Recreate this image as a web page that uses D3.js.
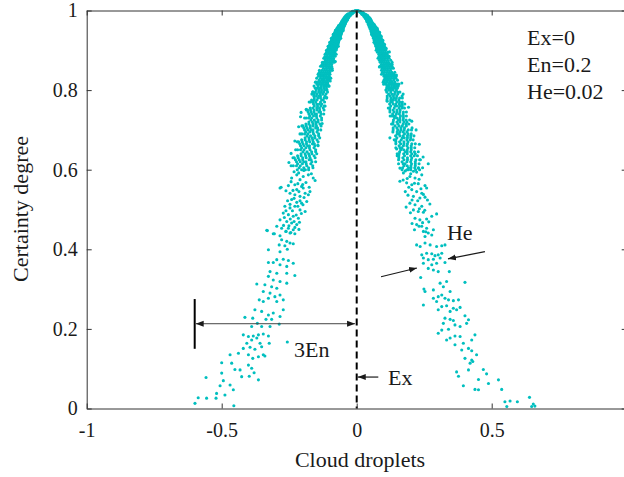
<!DOCTYPE html>
<html>
<head>
<meta charset="utf-8">
<script src="https://cdn.jsdelivr.net/npm/d3@7"></script>
<style>
    body { margin: 0; background: #ffffff; }
    svg { display: block; }
    svg text { font-family: "Liberation Serif", "Times New Roman", serif; }
</style>
</head>
<body>
<svg id="chart" width="624" height="477"></svg>
<script>
// Cloud droplets. Dense upper part is stored as rows: [certainty, [x, ...]].
const leftRows = [
    [1.000, [-0.006, -0.002]],
    [0.998, [-0.006, -0.011, -0.016]],
    [0.995, [-0.011, -0.017, -0.023]],
    [0.992, [-0.016, -0.022, -0.028, -0.032]],
    [0.990, [-0.021, -0.027, -0.032, -0.036]],
    [0.987, [-0.024, -0.030, -0.035, -0.040]],
    [0.985, [-0.028, -0.033, -0.038, -0.043]],
    [0.982, [-0.030, -0.036, -0.041, -0.046]],
    [0.980, [-0.033, -0.038, -0.043, -0.048]],
    [0.977, [-0.034, -0.040, -0.046, -0.051]],
    [0.975, [-0.036, -0.042, -0.047, -0.053]],
    [0.972, [-0.039, -0.045, -0.050, -0.056]],
    [0.970, [-0.041, -0.047, -0.052, -0.057]],
    [0.967, [-0.042, -0.048, -0.054, -0.060]],
    [0.965, [-0.044, -0.050, -0.056, -0.062]],
    [0.962, [-0.045, -0.051, -0.057, -0.063, -0.067]],
    [0.960, [-0.047, -0.053, -0.059, -0.064, -0.068]],
    [0.957, [-0.049, -0.055, -0.061, -0.066, -0.071]],
    [0.955, [-0.050, -0.056, -0.062, -0.068, -0.073]],
    [0.952, [-0.051, -0.058, -0.064, -0.070, -0.075]],
    [0.950, [-0.053, -0.059, -0.066, -0.071, -0.077]],
    [0.947, [-0.054, -0.061, -0.067, -0.073, -0.079]],
    [0.945, [-0.056, -0.062, -0.068, -0.075, -0.081]],
    [0.942, [-0.057, -0.064, -0.070, -0.076, -0.083]],
    [0.940, [-0.058, -0.065, -0.071, -0.078, -0.084]],
    [0.937, [-0.060, -0.066, -0.073, -0.079, -0.086]],
    [0.935, [-0.061, -0.068, -0.074, -0.081, -0.087]],
    [0.932, [-0.062, -0.069, -0.076, -0.082, -0.089]],
    [0.930, [-0.063, -0.070, -0.077, -0.083, -0.090]],
    [0.927, [-0.065, -0.072, -0.078, -0.085, -0.092]],
    [0.925, [-0.066, -0.073, -0.080, -0.086, -0.093]],
    [0.922, [-0.067, -0.074, -0.081, -0.088, -0.095]],
    [0.920, [-0.068, -0.075, -0.082, -0.089, -0.096]],
    [0.917, [-0.069, -0.076, -0.084, -0.091, -0.098]],
    [0.915, [-0.070, -0.077, -0.085, -0.092, -0.099]],
    [0.912, [-0.071, -0.079, -0.086, -0.093, -0.101]],
    [0.910, [-0.072, -0.080, -0.087, -0.094, -0.102]],
    [0.907, [-0.074, -0.081, -0.089, -0.096, -0.104]],
    [0.905, [-0.075, -0.082, -0.090, -0.097, -0.105]],
    [0.902, [-0.076, -0.083, -0.091, -0.099, -0.107]],
    [0.900, [-0.077, -0.084, -0.092, -0.100, -0.108]],
    [0.895, [-0.081, -0.087, -0.093, -0.100, -0.106, -0.112]],
    [0.890, [-0.081, -0.087, -0.093, -0.099, -0.104, -0.111]],
    [0.885, [-0.080, -0.087, -0.093, -0.100, -0.109]],
    [0.880, [-0.086, -0.094, -0.101, -0.106, -0.112, -0.118]],
    [0.875, [-0.085, -0.092, -0.100, -0.108, -0.116]],
    [0.870, [-0.089, -0.095, -0.101, -0.108, -0.114, -0.121]],
    [0.865, [-0.093, -0.099, -0.107, -0.114, -0.122, -0.128]],
    [0.860, [-0.093, -0.102, -0.110, -0.115, -0.122, -0.128]],
    [0.855, [-0.091, -0.098, -0.105, -0.113, -0.123]],
    [0.850, [-0.093, -0.101, -0.111, -0.119, -0.128]],
    [0.845, [-0.100, -0.107, -0.115, -0.123, -0.131, -0.138]],
    [0.840, [-0.099, -0.106, -0.113, -0.120, -0.128, -0.136]],
    [0.835, [-0.102, -0.112, -0.120, -0.126, -0.133, -0.141]],
    [0.830, [-0.099, -0.107, -0.115, -0.123, -0.134]],
    [0.825, [-0.102, -0.110, -0.120, -0.129, -0.139]],
    [0.820, [-0.108, -0.116, -0.125, -0.134, -0.142, -0.150]],
    [0.815, [-0.107, -0.115, -0.123, -0.130, -0.138, -0.147]],
    [0.810, [-0.105, -0.114, -0.122, -0.131, -0.143]],
    [0.805, [-0.112, -0.122, -0.132, -0.138, -0.146, -0.154]],
    [0.800, [-0.110, -0.119, -0.130, -0.139, -0.150]],
    [0.795, [-0.108, -0.122, -0.131, -0.141, -0.153, -0.163]],
    [0.790, [-0.114, -0.126, -0.136, -0.148, -0.158]],
    [0.785, [-0.118, -0.134, -0.139, -0.149, -0.159]],
    [0.780, [-0.121, -0.134, -0.144, -0.157]],
    [0.775, [-0.124, -0.130, -0.147, -0.157, -0.167]],
    [0.770, [-0.119, -0.134, -0.152, -0.162, -0.171]],
    [0.765, [-0.129, -0.138, -0.148, -0.160]],
    [0.760, [-0.120, -0.132, -0.145, -0.157]],
    [0.755, [-0.124, -0.138, -0.148, -0.162, -0.172]],
    [0.750, [-0.121, -0.137, -0.147, -0.158, -0.171, -0.182]],
    [0.745, [-0.134, -0.140, -0.158, -0.169, -0.180]],
    [0.740, [-0.132, -0.149, -0.155, -0.166, -0.177]],
    [0.735, [-0.135, -0.149, -0.160, -0.174]],
    [0.730, [-0.130, -0.148, -0.167, -0.178, -0.187]],
    [0.725, [-0.130, -0.143, -0.157, -0.170]],
    [0.720, [-0.143, -0.152, -0.164, -0.177]],
    [0.715, [-0.136, -0.151, -0.162, -0.177, -0.188]],
    [0.710, [-0.132, -0.149, -0.161, -0.172, -0.187, -0.199]],
    [0.705, [-0.145, -0.152, -0.172, -0.184, -0.196]],
    [0.700, [-0.144, -0.162, -0.169, -0.181, -0.193]],
    [0.695, [-0.147, -0.162, -0.174, -0.189]],
    [0.690, [-0.141, -0.160, -0.181, -0.193, -0.203]],
    [0.685, [-0.141, -0.155, -0.171, -0.184]],
    [0.680, [-0.155, -0.165, -0.177, -0.191]],
    [0.675, [-0.147, -0.163, -0.176, -0.191, -0.204]],
    [0.670, [-0.143, -0.161, -0.174, -0.186, -0.202, -0.215]],
    [0.665, [-0.157, -0.164, -0.186, -0.199, -0.211]],
    [0.660, [-0.155, -0.175, -0.182, -0.195, -0.208]],
    [0.655, [-0.158, -0.175, -0.188, -0.204]],
    [0.650, [-0.152, -0.173, -0.195, -0.208, -0.219]],
    [0.645, [-0.152, -0.167, -0.184, -0.199]],
    [0.640, [-0.166, -0.178, -0.191, -0.206]],
    [0.635, [-0.158, -0.175, -0.189, -0.206, -0.219]],
    [0.630, [-0.154, -0.173, -0.187, -0.200, -0.217, -0.231]],
    [0.625, [-0.169, -0.176, -0.200, -0.213, -0.227]],
    [0.620, [-0.166, -0.188, -0.196, -0.209, -0.223]],
    [0.615, [-0.170, -0.187, -0.201, -0.219]],
    [0.610, [-0.163, -0.185, -0.209, -0.223, -0.235]],
    [0.605, [-0.162, -0.178, -0.196, -0.213]],
    [0.600, [-0.178, -0.190, -0.204, -0.220]]
];

const rightRows = [
    [1.000, [0.002, 0.006]],
    [0.998, [0.004, 0.009, 0.014]],
    [0.995, [0.013, 0.019, 0.024]],
    [0.992, [0.018, 0.024, 0.029]],
    [0.990, [0.020, 0.026, 0.031, 0.035]],
    [0.987, [0.026, 0.031, 0.036, 0.041]],
    [0.985, [0.027, 0.032, 0.037, 0.042]],
    [0.982, [0.031, 0.037, 0.042, 0.047]],
    [0.980, [0.032, 0.037, 0.042, 0.047, 0.050]],
    [0.977, [0.036, 0.041, 0.046, 0.052]],
    [0.975, [0.037, 0.043, 0.048, 0.054]],
    [0.972, [0.038, 0.044, 0.049, 0.055]],
    [0.970, [0.042, 0.048, 0.053, 0.058]],
    [0.967, [0.043, 0.049, 0.055, 0.061]],
    [0.965, [0.043, 0.049, 0.055, 0.061, 0.065]],
    [0.962, [0.047, 0.053, 0.059, 0.065]],
    [0.960, [0.046, 0.052, 0.058, 0.063, 0.069]],
    [0.957, [0.050, 0.056, 0.062, 0.068, 0.072]],
    [0.955, [0.049, 0.055, 0.061, 0.067, 0.072]],
    [0.952, [0.052, 0.059, 0.065, 0.071, 0.076]],
    [0.950, [0.054, 0.060, 0.066, 0.072, 0.078]],
    [0.947, [0.053, 0.060, 0.066, 0.072, 0.078]],
    [0.945, [0.057, 0.063, 0.069, 0.076, 0.082]],
    [0.942, [0.056, 0.063, 0.069, 0.075, 0.082]],
    [0.940, [0.059, 0.066, 0.072, 0.079, 0.085]],
    [0.937, [0.061, 0.067, 0.074, 0.080, 0.087]],
    [0.935, [0.060, 0.067, 0.073, 0.080, 0.086]],
    [0.932, [0.063, 0.070, 0.077, 0.083, 0.090]],
    [0.930, [0.062, 0.069, 0.076, 0.082, 0.089]],
    [0.927, [0.066, 0.073, 0.079, 0.086, 0.093]],
    [0.925, [0.065, 0.072, 0.079, 0.085, 0.092]],
    [0.922, [0.068, 0.075, 0.082, 0.089, 0.096]],
    [0.920, [0.067, 0.074, 0.081, 0.088, 0.095]],
    [0.917, [0.070, 0.077, 0.085, 0.092, 0.099]],
    [0.915, [0.069, 0.076, 0.084, 0.091, 0.098]],
    [0.912, [0.072, 0.080, 0.087, 0.094, 0.102]],
    [0.910, [0.071, 0.079, 0.086, 0.093, 0.101]],
    [0.907, [0.075, 0.082, 0.090, 0.097, 0.105]],
    [0.905, [0.074, 0.081, 0.089, 0.096, 0.104]],
    [0.902, [0.077, 0.084, 0.092, 0.100, 0.108]],
    [0.900, [0.076, 0.083, 0.091, 0.099, 0.107]],
    [0.895, [0.077, 0.084, 0.091, 0.098, 0.106]],
    [0.890, [0.082, 0.090, 0.097, 0.101, 0.107, 0.113]],
    [0.885, [0.083, 0.089, 0.095, 0.101, 0.107, 0.114]],
    [0.880, [0.087, 0.093, 0.100, 0.107, 0.114, 0.120]],
    [0.875, [0.084, 0.091, 0.097, 0.104, 0.114]],
    [0.870, [0.087, 0.094, 0.102, 0.110, 0.118]],
    [0.865, [0.092, 0.100, 0.108, 0.113, 0.120, 0.126]],
    [0.860, [0.094, 0.101, 0.109, 0.116, 0.124, 0.131]],
    [0.855, [0.094, 0.101, 0.107, 0.114, 0.121, 0.129]],
    [0.850, [0.092, 0.100, 0.107, 0.115, 0.125]],
    [0.845, [0.095, 0.103, 0.113, 0.121, 0.130]],
    [0.840, [0.100, 0.110, 0.118, 0.124, 0.131, 0.138]],
    [0.835, [0.101, 0.108, 0.115, 0.122, 0.130, 0.138]],
    [0.830, [0.105, 0.112, 0.121, 0.129, 0.138, 0.145]],
    [0.825, [0.101, 0.109, 0.117, 0.125, 0.137]],
    [0.820, [0.103, 0.112, 0.122, 0.131, 0.141]],
    [0.815, [0.109, 0.119, 0.128, 0.134, 0.142, 0.150]],
    [0.810, [0.112, 0.119, 0.129, 0.138, 0.147, 0.154]],
    [0.805, [0.111, 0.119, 0.126, 0.134, 0.142, 0.151]],
    [0.800, [0.108, 0.118, 0.126, 0.135, 0.147]],
    [0.795, [0.111, 0.126, 0.142, 0.152, 0.160]],
    [0.790, [0.118, 0.130, 0.140, 0.152]],
    [0.785, [0.113, 0.124, 0.136, 0.148]],
    [0.780, [0.113, 0.127, 0.137, 0.147, 0.159, 0.169]],
    [0.775, [0.126, 0.134, 0.144, 0.156]],
    [0.770, [0.126, 0.132, 0.149, 0.159, 0.169]],
    [0.765, [0.122, 0.135, 0.145, 0.158, 0.168]],
    [0.760, [0.126, 0.142, 0.148, 0.159, 0.169]],
    [0.755, [0.123, 0.139, 0.157, 0.168, 0.177]],
    [0.750, [0.123, 0.135, 0.149, 0.161]],
    [0.745, [0.123, 0.138, 0.149, 0.160, 0.173, 0.184]],
    [0.740, [0.133, 0.147, 0.158, 0.172]],
    [0.735, [0.137, 0.143, 0.162, 0.173, 0.184]],
    [0.730, [0.140, 0.149, 0.160, 0.173]],
    [0.725, [0.136, 0.154, 0.160, 0.172, 0.183]],
    [0.720, [0.135, 0.149, 0.160, 0.175, 0.186]],
    [0.715, [0.134, 0.152, 0.172, 0.183, 0.193]],
    [0.710, [0.142, 0.157, 0.169, 0.184]],
    [0.705, [0.135, 0.149, 0.164, 0.177]],
    [0.700, [0.135, 0.152, 0.164, 0.176, 0.191, 0.203]],
    [0.695, [0.150, 0.160, 0.172, 0.186]],
    [0.690, [0.150, 0.157, 0.177, 0.190, 0.202]],
    [0.685, [0.144, 0.160, 0.172, 0.188, 0.200]],
    [0.680, [0.149, 0.169, 0.176, 0.188, 0.200]],
    [0.675, [0.145, 0.165, 0.186, 0.199, 0.209]],
    [0.670, [0.145, 0.159, 0.175, 0.190]],
    [0.665, [0.145, 0.163, 0.175, 0.188, 0.204, 0.217]],
    [0.660, [0.157, 0.173, 0.186, 0.202]],
    [0.655, [0.160, 0.167, 0.190, 0.202, 0.215]],
    [0.650, [0.163, 0.174, 0.187, 0.202]],
    [0.645, [0.159, 0.180, 0.187, 0.200, 0.214]],
    [0.640, [0.157, 0.174, 0.187, 0.204, 0.217]],
    [0.635, [0.156, 0.177, 0.200, 0.213, 0.225]],
    [0.630, [0.156, 0.171, 0.188, 0.204]],
    [0.625, [0.155, 0.175, 0.188, 0.202, 0.219, 0.233]],
    [0.620, [0.168, 0.186, 0.200, 0.217]],
    [0.615, [0.172, 0.179, 0.203, 0.217, 0.231]],
    [0.610, [0.175, 0.187, 0.201, 0.217]],
    [0.605, [0.170, 0.192, 0.201, 0.215, 0.229]],
    [0.600, [0.168, 0.186, 0.200, 0.218, 0.233]]
];

// Loose droplets as [x, certainty].
const leftScatter = [
    [-0.079, 0.950], [-0.087, 0.940], [-0.094, 0.930], [-0.100, 0.920], [-0.106, 0.910],
    [-0.112, 0.900], [-0.117, 0.890], [-0.122, 0.880], [-0.127, 0.870], [-0.134, 0.860],
    [-0.138, 0.850], [-0.143, 0.840], [-0.148, 0.830], [-0.153, 0.820], [-0.158, 0.810],
    [-0.050, 0.950], [-0.059, 0.930], [-0.068, 0.910], [-0.076, 0.890], [-0.083, 0.870],
    [-0.090, 0.850], [-0.096, 0.830], [-0.102, 0.810],
    [-0.166, 0.790], [-0.176, 0.770], [-0.186, 0.750], [-0.193, 0.730], [-0.203, 0.710],
    [-0.210, 0.690], [-0.220, 0.670], [-0.226, 0.650], [-0.236, 0.630], [-0.243, 0.610],
    [-0.112, 0.780], [-0.117, 0.760], [-0.122, 0.740], [-0.133, 0.700], [-0.137, 0.680],
    [-0.143, 0.660], [-0.148, 0.640], [-0.152, 0.620],
    [-0.118, 0.884], [-0.128, 0.862], [-0.079, 0.872], [-0.140, 0.842], [-0.098, 0.823],
    [-0.162, 0.796], [-0.111, 0.781], [-0.187, 0.752], [-0.206, 0.744], [-0.208, 0.733],
    [-0.128, 0.716], [-0.215, 0.708], [-0.229, 0.672], [-0.144, 0.662], [-0.243, 0.641],
    [-0.251, 0.618],
    [-0.232, 0.595], [-0.215, 0.592], [-0.196, 0.598], [-0.168, 0.590], [-0.222, 0.587],
    [-0.198, 0.583], [-0.179, 0.587], [-0.161, 0.579], [-0.241, 0.579], [-0.210, 0.575],
    [-0.188, 0.568], [-0.154, 0.573], [-0.243, 0.570], [-0.218, 0.565], [-0.200, 0.563],
    [-0.229, 0.562], [-0.204, 0.558], [-0.284, 0.554], [-0.280, 0.556], [-0.253, 0.560],
    [-0.176, 0.556], [-0.222, 0.550], [-0.198, 0.554], [-0.173, 0.545], [-0.262, 0.547],
    [-0.236, 0.548], [-0.214, 0.545], [-0.247, 0.541], [-0.229, 0.537], [-0.210, 0.533],
    [-0.191, 0.541], [-0.179, 0.537], [-0.195, 0.530], [-0.232, 0.528], [-0.241, 0.525],
    [-0.256, 0.522], [-0.210, 0.522], [-0.222, 0.518], [-0.204, 0.516], [-0.185, 0.520],
    [-0.247, 0.513], [-0.218, 0.508], [-0.199, 0.512], [-0.266, 0.508], [-0.247, 0.504],
    [-0.229, 0.508], [-0.210, 0.499], [-0.191, 0.495], [-0.262, 0.497], [-0.238, 0.497],
    [-0.272, 0.491], [-0.253, 0.487], [-0.235, 0.483], [-0.216, 0.478], [-0.205, 0.490],
    [-0.224, 0.486], [-0.284, 0.474], [-0.259, 0.470], [-0.241, 0.466], [-0.222, 0.462],
    [-0.268, 0.480], [-0.246, 0.476], [-0.232, 0.470], [-0.212, 0.468], [-0.271, 0.460],
    [-0.251, 0.459], [-0.229, 0.455], [-0.333, 0.448], [-0.296, 0.458], [-0.278, 0.453],
    [-0.253, 0.453], [-0.235, 0.449], [-0.214, 0.450], [-0.262, 0.445], [-0.244, 0.442],
    [-0.331, 0.447], [-0.305, 0.439], [-0.284, 0.434], [-0.262, 0.445], [-0.247, 0.441],
    [-0.229, 0.439], [-0.309, 0.439], [-0.278, 0.424], [-0.259, 0.420], [-0.287, 0.411],
    [-0.266, 0.409], [-0.247, 0.416], [-0.235, 0.414], [-0.327, 0.399], [-0.284, 0.394],
    [-0.257, 0.400], [-0.296, 0.374], [-0.272, 0.375], [-0.253, 0.372], [-0.309, 0.367],
    [-0.235, 0.365], [-0.327, 0.367], [-0.284, 0.361], [-0.259, 0.357], [-0.321, 0.344],
    [-0.296, 0.340], [-0.259, 0.340], [-0.229, 0.334], [-0.327, 0.332], [-0.309, 0.323],
    [-0.284, 0.319], [-0.259, 0.315], [-0.370, 0.313], [-0.340, 0.311], [-0.315, 0.306],
    [-0.296, 0.302], [-0.346, 0.294], [-0.321, 0.290], [-0.303, 0.281], [-0.284, 0.285],
    [-0.327, 0.277], [-0.361, 0.273], [-0.346, 0.269], [-0.296, 0.269], [-0.272, 0.273],
    [-0.377, 0.248], [-0.352, 0.244], [-0.327, 0.235], [-0.309, 0.240], [-0.272, 0.248],
    [-0.284, 0.231], [-0.315, 0.224], [-0.336, 0.224], [-0.414, 0.229], [-0.385, 0.227],
    [-0.368, 0.214], [-0.352, 0.206], [-0.389, 0.206], [-0.321, 0.206], [-0.287, 0.212],
    [-0.420, 0.185], [-0.401, 0.181], [-0.383, 0.182], [-0.364, 0.185], [-0.346, 0.187],
    [-0.327, 0.182], [-0.389, 0.172], [-0.370, 0.177], [-0.407, 0.164], [-0.358, 0.164],
    [-0.324, 0.164], [-0.257, 0.167], [-0.420, 0.151], [-0.395, 0.154], [-0.377, 0.149],
    [-0.352, 0.155], [-0.340, 0.132], [-0.469, 0.135], [-0.438, 0.139], [-0.401, 0.135],
    [-0.385, 0.126], [-0.364, 0.130], [-0.346, 0.135], [-0.500, 0.115], [-0.463, 0.114],
    [-0.451, 0.098], [-0.432, 0.097], [-0.401, 0.109], [-0.389, 0.101], [-0.500, 0.089],
    [-0.426, 0.080], [-0.398, 0.081], [-0.380, 0.090], [-0.364, 0.072], [-0.558, 0.078],
    [-0.494, 0.070], [-0.469, 0.059], [-0.506, 0.057], [-0.519, 0.038], [-0.488, 0.034],
    [-0.457, 0.047], [-0.556, 0.026], [-0.587, 0.027], [-0.599, 0.013], [-0.521, 0.026],
    [-0.455, 0.007]
];

const rightScatter = [
    [0.076, 0.955], [0.085, 0.945], [0.091, 0.935], [0.097, 0.925], [0.103, 0.915],
    [0.109, 0.905], [0.115, 0.895], [0.120, 0.885], [0.126, 0.875], [0.131, 0.865],
    [0.136, 0.855], [0.141, 0.845], [0.146, 0.835], [0.151, 0.825], [0.156, 0.815],
    [0.055, 0.940], [0.064, 0.920], [0.072, 0.900], [0.079, 0.880], [0.086, 0.860],
    [0.092, 0.840], [0.098, 0.820],
    [0.168, 0.785], [0.178, 0.765], [0.196, 0.725], [0.205, 0.705], [0.212, 0.685],
    [0.228, 0.645], [0.236, 0.625], [0.244, 0.605],
    [0.112, 0.775], [0.117, 0.755], [0.124, 0.735], [0.129, 0.715], [0.134, 0.695],
    [0.139, 0.675], [0.145, 0.655], [0.150, 0.635], [0.155, 0.615],
    [0.121, 0.896], [0.131, 0.870], [0.084, 0.858], [0.147, 0.838], [0.100, 0.815],
    [0.167, 0.818], [0.172, 0.790], [0.113, 0.772], [0.192, 0.757], [0.204, 0.722],
    [0.131, 0.735], [0.220, 0.700], [0.123, 0.680], [0.232, 0.664], [0.148, 0.652],
    [0.150, 0.640], [0.246, 0.632], [0.265, 0.615], [0.160, 0.604],
    [0.191, 0.600], [0.210, 0.596], [0.228, 0.604], [0.173, 0.592], [0.180, 0.597],
    [0.200, 0.590], [0.222, 0.594], [0.197, 0.583], [0.216, 0.579], [0.241, 0.587],
    [0.187, 0.578], [0.231, 0.576], [0.172, 0.574], [0.160, 0.571], [0.185, 0.567],
    [0.204, 0.562], [0.228, 0.565], [0.253, 0.560], [0.214, 0.566], [0.193, 0.556],
    [0.204, 0.550], [0.222, 0.545], [0.241, 0.541], [0.259, 0.554], [0.238, 0.552],
    [0.180, 0.545], [0.247, 0.538], [0.190, 0.536], [0.210, 0.533], [0.234, 0.529],
    [0.253, 0.531], [0.226, 0.522], [0.205, 0.524], [0.262, 0.524], [0.197, 0.516],
    [0.216, 0.512], [0.241, 0.508], [0.271, 0.514], [0.183, 0.506], [0.232, 0.502],
    [0.252, 0.498], [0.210, 0.499], [0.228, 0.495], [0.247, 0.493], [0.296, 0.489],
    [0.199, 0.492], [0.216, 0.478], [0.234, 0.474], [0.259, 0.476], [0.278, 0.483],
    [0.267, 0.469], [0.244, 0.467], [0.205, 0.465], [0.222, 0.462], [0.241, 0.458],
    [0.231, 0.458], [0.259, 0.453], [0.284, 0.449], [0.256, 0.444], [0.214, 0.449],
    [0.247, 0.445], [0.265, 0.441], [0.278, 0.436], [0.253, 0.432], [0.222, 0.411],
    [0.235, 0.407], [0.253, 0.416], [0.272, 0.411], [0.296, 0.407], [0.315, 0.409],
    [0.327, 0.411], [0.241, 0.386], [0.259, 0.390], [0.278, 0.389], [0.290, 0.384],
    [0.302, 0.386], [0.315, 0.390], [0.247, 0.378], [0.265, 0.374], [0.284, 0.375],
    [0.309, 0.378], [0.327, 0.367], [0.247, 0.365], [0.278, 0.361], [0.296, 0.365],
    [0.284, 0.348], [0.302, 0.344], [0.265, 0.352], [0.343, 0.344], [0.237, 0.329],
    [0.401, 0.317], [0.309, 0.315], [0.333, 0.319], [0.321, 0.306], [0.249, 0.300],
    [0.253, 0.294], [0.284, 0.298], [0.346, 0.294], [0.302, 0.281], [0.284, 0.277],
    [0.315, 0.285], [0.327, 0.277], [0.340, 0.273], [0.358, 0.271], [0.377, 0.273],
    [0.296, 0.269], [0.315, 0.256], [0.333, 0.258], [0.358, 0.252], [0.383, 0.254],
    [0.302, 0.248], [0.346, 0.244], [0.370, 0.248], [0.247, 0.260], [0.327, 0.227],
    [0.346, 0.224], [0.358, 0.221], [0.401, 0.233], [0.414, 0.223], [0.321, 0.214],
    [0.364, 0.210], [0.383, 0.206], [0.407, 0.214], [0.315, 0.197], [0.340, 0.199],
    [0.302, 0.189], [0.364, 0.182], [0.383, 0.181], [0.426, 0.172], [0.438, 0.185],
    [0.333, 0.172], [0.346, 0.177], [0.364, 0.160], [0.395, 0.164], [0.414, 0.151],
    [0.426, 0.145], [0.444, 0.135], [0.389, 0.147], [0.401, 0.126], [0.426, 0.122],
    [0.420, 0.114], [0.430, 0.118], [0.469, 0.098], [0.414, 0.097], [0.481, 0.087],
    [0.370, 0.092], [0.377, 0.081], [0.451, 0.073], [0.488, 0.063], [0.525, 0.072],
    [0.395, 0.057], [0.438, 0.048], [0.451, 0.047], [0.537, 0.048], [0.549, 0.017],
    [0.568, 0.019], [0.595, 0.017], [0.556, 0.005], [0.640, 0.028], [0.654, 0.011],
    [0.660, 0.006], [0.648, 0.005]
];

const xTicks = [-1, -0.5, 0, 0.5, 1];
const xTickLabels = ["-1", "-0.5", "0", "0.5", ""];
const yTicks = [0, 0.2, 0.4, 0.6, 0.8, 1];
const cloudParams = ["Ex=0", "En=0.2", "He=0.02"];
const xTitle = "Cloud droplets";
const yTitle = "Certainty degree";

const box = { left: 86.7, right: 626.7, top: 10.5, bottom: 408.5 };
const dropColor = "#00bfbf";
const inkColor = "#1a1a1a";
const serif = "'Liberation Serif', 'Times New Roman', serif";

const svg = d3.select("#chart");

const x = d3.scaleLinear().domain([-1, 1]).range([box.left, box.right]);
const y = d3.scaleLinear().domain([0, 1]).range([box.bottom, box.top]);

function rowsToDrops(rows) {
    return rows.flatMap(([certainty, xs]) => xs.map(value => [value, certainty]));
}

const droplets = [
    ...rowsToDrops(leftRows),
    ...rowsToDrops(rightRows),
    ...leftScatter,
    ...rightScatter
];

// Arrow head used by the annotation arrows.
svg.append("defs").append("marker")
    .attr("id", "arrowHead")
    .attr("markerUnits", "userSpaceOnUse")
    .attr("markerWidth", 9)
    .attr("markerHeight", 7)
    .attr("refX", 8)
    .attr("refY", 3.5)
    .attr("orient", "auto-start-reverse")
    .append("path")
    .attr("d", "M0,0.5 L8,3.5 L0,6.5 Z")
    .attr("fill", inkColor);

// Droplets.
svg.append("g")
    .selectAll("circle")
    .data(droplets)
    .join("circle")
    .attr("cx", d => x(d[0]))
    .attr("cy", d => y(d[1]))
    .attr("r", 1.55)
    .attr("fill", dropColor);

// Expectation line.
svg.append("line")
    .attr("x1", x(0))
    .attr("x2", x(0))
    .attr("y1", y(1))
    .attr("y2", y(0))
    .attr("stroke", "#000")
    .attr("stroke-width", 2)
    .attr("stroke-dasharray", "7,4");

// Axes on all four sides, ticks pointing in.
function styleAxis(g) {
    g.attr("font-family", serif).attr("font-size", 20);
    g.selectAll("path.domain").attr("stroke", "#333").attr("stroke-width", 1);
    g.selectAll(".tick line").attr("stroke", "#333");
    g.selectAll("text")
        .attr("fill", inkColor)
        .attr("font-family", serif)
        .attr("font-size", 20);
}

svg.append("g")
    .attr("transform", `translate(0,${box.bottom})`)
    .call(d3.axisBottom(x).tickValues(xTicks).tickSizeInner(-5).tickSizeOuter(0)
        .tickPadding(14).tickFormat((d, i) => xTickLabels[i]))
    .call(styleAxis);

svg.append("g")
    .attr("transform", `translate(0,${box.top})`)
    .call(d3.axisTop(x).tickValues(xTicks).tickSizeInner(-5).tickSizeOuter(0).tickFormat(""))
    .call(styleAxis);

svg.append("g")
    .attr("transform", `translate(${box.left},0)`)
    .call(d3.axisLeft(y).tickValues(yTicks).tickSizeInner(-5).tickSizeOuter(0)
        .tickPadding(9).tickFormat(d => String(d)))
    .call(styleAxis);

svg.append("g")
    .attr("transform", `translate(${box.right},0)`)
    .call(d3.axisRight(y).tickValues(yTicks).tickSizeInner(-5).tickSizeOuter(0).tickFormat(""))
    .call(styleAxis);

// Axis titles.
svg.append("text")
    .attr("x", 360)
    .attr("y", 467)
    .attr("text-anchor", "middle")
    .attr("fill", inkColor)
    .attr("font-family", serif)
    .attr("font-size", 22)
    .text(xTitle);

svg.append("text")
    .attr("transform", "translate(28,209) rotate(-90)")
    .attr("text-anchor", "middle")
    .attr("fill", inkColor)
    .attr("font-family", serif)
    .attr("font-size", 22)
    .text(yTitle);

// Parameter block, top right.
svg.append("g")
    .selectAll("text")
    .data(cloudParams)
    .join("text")
    .attr("x", x(0.631))
    .attr("y", (d, i) => 45 + i * 27)
    .attr("fill", inkColor)
    .attr("font-family", serif)
    .attr("font-size", 22)
    .text(d => d);

// 3En span: bar at Ex - 3En and double arrow to Ex.
const spanY = 0.213;
svg.append("line")
    .attr("x1", x(-0.6)).attr("x2", x(-0.6))
    .attr("y1", y(0.275)).attr("y2", y(0.150))
    .attr("stroke", "#000").attr("stroke-width", 2);

svg.append("line")
    .attr("x1", x(-0.6) + 1).attr("x2", x(-0.006))
    .attr("y1", y(spanY)).attr("y2", y(spanY))
    .attr("stroke", "#444").attr("stroke-width", 1)
    .attr("marker-start", "url(#arrowHead)")
    .attr("marker-end", "url(#arrowHead)");

const annotationArrows = [
    [[0.080, 0.079], [0.004, 0.079]],
    [[0.090, 0.331], [0.223, 0.353]],
    [[0.475, 0.394], [0.338, 0.376]]
];

svg.append("g")
    .selectAll("line")
    .data(annotationArrows)
    .join("line")
    .attr("x1", d => x(d[0][0]))
    .attr("y1", d => y(d[0][1]))
    .attr("x2", d => x(d[1][0]))
    .attr("y2", d => y(d[1][1]))
    .attr("stroke", inkColor)
    .attr("stroke-width", 1.2)
    .attr("marker-end", "url(#arrowHead)");

const annotationLabels = [
    { text: "3En", at: [-0.232, 0.1296] },
    { text: "Ex", at: [0.116, 0.0591] },
    { text: "He", at: [0.334, 0.424] }
];

svg.append("g")
    .selectAll("text")
    .data(annotationLabels)
    .join("text")
    .attr("x", d => x(d.at[0]))
    .attr("y", d => y(d.at[1]))
    .attr("fill", inkColor)
    .attr("font-family", serif)
    .attr("font-size", 22)
    .text(d => d.text);
</script>
</body>
</html>
